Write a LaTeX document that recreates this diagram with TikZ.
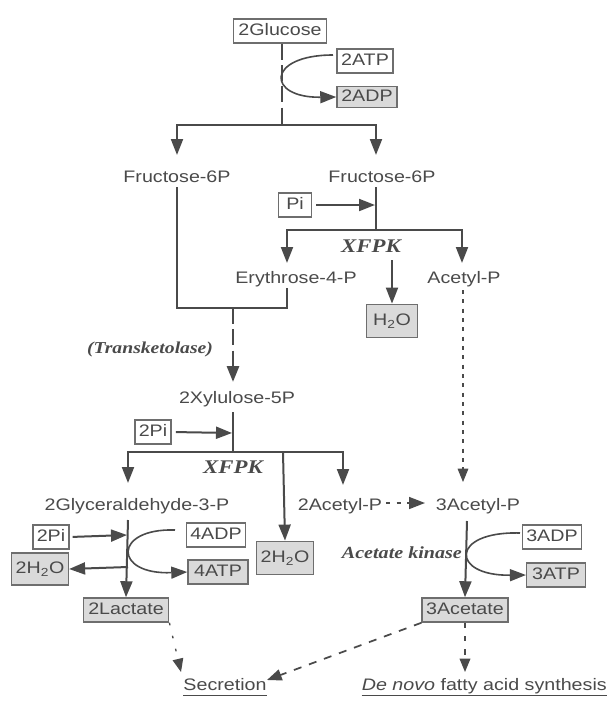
\documentclass[tikz,border=0pt]{standalone}
\usepackage{fontspec}
\setmainfont{Liberation Sans}[FakeStretch=1.18]
\newfontfamily\enzfont{Liberation Serif}[FakeStretch=1.18]
\usetikzlibrary{arrows.meta}
\definecolor{ink}{HTML}{4A4A4A}
\definecolor{boxgrey}{HTML}{DADADA}
\definecolor{boxline}{HTML}{6E6E6E}
\begin{document}
\begin{tikzpicture}[x=0.75pt,y=-0.75pt,
  every node/.style={text=ink,font=\fontsize{12.5}{14}\selectfont},
  box/.style={draw=boxline,line width=1.1pt,fill=white,inner xsep=3pt,inner ysep=0pt,
    minimum height=18pt,text height=9pt,text depth=2pt},
  gbox/.style={box,fill=boxgrey},
  lbl/.style={anchor=base,inner sep=0pt},
  enz/.style={anchor=base,inner sep=0pt,font=\enzfont\bfseries\itshape\fontsize{14.5}{16}\selectfont},
  ln/.style={draw=ink,line width=1.5pt},
  tip/.style={-{Triangle[length=12pt,width=9pt]}},
  arr/.style={ln,tip},
  thickdash/.style={draw=ink,line width=2.2pt,dash pattern=on 12pt off 4pt}
]
\useasboundingbox (0,0) rectangle (608,701);

% ---------- nodes ----------
\node[box,minimum width=70pt] (glu) at (280,31) {2Glucose};
\node[box,minimum width=42pt] (atp2) at (365,61) {2ATP};
\node[gbox,minimum width=45pt,minimum height=16pt] (adp2) at (367,97) {2ADP};
\node[lbl] (fru1) at (177,182) {Fructose-6P};
\node[lbl] (fru2) at (382,182) {Fructose-6P};
\node[box,minimum width=25pt] (pi) at (295,205) {Pi};
\node[enz] (xfpk1) at (371,252) {XFPK};
\node[lbl] (ery) at (296,283) {Erythrose-4-P};
\node[lbl] (acp) at (464,283) {Acetyl-P};
\node[gbox,minimum width=38pt,minimum height=25pt] (h2o) at (392,321) {H\textsubscript{2}O};
\node[enz,font=\enzfont\bfseries\itshape\fontsize{12.5}{14}\selectfont] (trans) at (150,353) {(Transketolase)};
\node[lbl] (xyl) at (237,403) {2Xylulose-5P};
\node[box,minimum width=25pt] (pi2) at (153,432) {2Pi};
\node[enz] (xfpk2) at (233,473) {XFPK};
\node[lbl] (gly) at (137,510) {2Glyceraldehyde-3-P};
\node[lbl] (acp2) at (340,510) {2Acetyl-P};
\node[lbl] (acp3) at (478,510) {3Acetyl-P};
\node[box,minimum width=26pt] (pi3) at (51,537) {2Pi};
\node[box,minimum width=43pt] (adp4) at (216,535) {4ADP};
\node[gbox,minimum width=45pt] (atp4) at (218,572) {4ATP};
\node[gbox,minimum width=41pt,minimum height=24pt] (h2oL) at (40,569) {2H\textsubscript{2}O};
\node[gbox,minimum width=41pt,minimum height=25pt] (h2oM) at (285,558) {2H\textsubscript{2}O};
\node[gbox,minimum width=64pt] (lac) at (126,610) {2Lactate};
\node[box,minimum width=44pt] (adp3) at (552,537) {3ADP};
\node[gbox,minimum width=44pt] (atp3) at (556,575) {3ATP};
\node[enz,anchor=base east,font=\enzfont\bfseries\itshape\fontsize{12.75}{14}\selectfont] (ak) at (462,558) {Acetate kinase};
\node[gbox,minimum width=64pt] (ace) at (465,610) {3Acetate};
\node[lbl] (sec) at (225,690) {Secretion};
\node[lbl,anchor=base east] (dn) at (607,690) {\textit{De novo} fatty acid synthesis};
\draw[ink,line width=0.8pt] ([yshift=-4pt]sec.base west) -- ([yshift=-4pt]sec.base east);
\draw[ink,line width=0.8pt] ([yshift=-4pt]dn.base west) -- ([yshift=-4pt]dn.base east);

% ---------- coordinates ----------
\coordinate (j1) at (282,125);
\coordinate (f1t) at (177,155);
\coordinate (f2t) at (376,155);
\coordinate (f1b) at (177,187);
\coordinate (f2b) at (376,187);
\coordinate (j2) at (376,230);
\coordinate (pij) at (375,205);
\coordinate (et) at (287,263);
\coordinate (at) at (462,263);
\coordinate (eb) at (287,288);
\coordinate (j3R) at (287,308);
\coordinate (j3) at (233,308);
\coordinate (h2oS) at (392,260);
\coordinate (xt) at (233,382);
\coordinate (xb) at (233,412);
\coordinate (j4) at (233,452);
\coordinate (pi2j) at (232,433);
\coordinate (gt) at (128,483);
\coordinate (mt) at (283,452);
\coordinate (a2t) at (343,485);
\coordinate (acpB) at (463,290);
\coordinate (a3t) at (463,482);
\coordinate (a3b) at (467,521);
\coordinate (gb) at (128,520);
\coordinate (pi3j) at (127,535);
\coordinate (h2oLj) at (128,567);
\coordinate (c2s) at (333,55);
\coordinate (c4s) at (175,530);
\coordinate (c3s) at (520,533);
\coordinate (a2e) at (386,503);
\coordinate (a3w) at (425,503);
\coordinate (secL) at (181,672);
\coordinate (secR) at (267,680);
\coordinate (dnt) at (465,672);

% ---------- connectors ----------
\draw[thickdash] (glu.south -| j1) -- (j1);
\draw[arr,line width=1.2pt] (c2s) .. controls (266,55) and (266,98) .. (adp2.west);
\draw[arr] (j1) -| (f1t);
\draw[arr] (j1) -| (f2t);

\draw[ln] (f2b) -- (j2);
\draw[arr,shorten <=3pt] (pi.east) -- (pij);
\draw[arr] (j2) -| (et);
\draw[arr] (j2) -| (at);
\draw[arr] (h2oS) -- (h2o.north);
\draw[ln] (f1b) |- (j3R) -- (eb);
\draw[thickdash,tip] (j3) -- (xt);

\draw[ln] (xb) -- (j4);
\draw[arr,shorten <=3pt] (pi2.east) -- (pi2j);
\draw[arr] (j4) -| (gt);
\draw[arr] (j4) -| (a2t);
\draw[arr] (mt) -- (h2oM.north);

\draw[arr] (gb) -- (lac.north);
\draw[arr,shorten <=2pt] (pi3.east) -- (pi3j);
\draw[arr] (h2oLj) -- (h2oL.east);
\draw[arr,line width=1.2pt] (c4s) .. controls (113,528) and (113,575) .. (atp4.west);

\draw[draw=ink,line width=0.8pt,dash pattern=on 3pt off 4pt,-{Triangle[length=10pt,width=8pt]}] (acpB) -- (a3t);
\draw[draw=ink,line width=1.2pt,dash pattern=on 3pt off 5pt,-{Triangle[length=12pt,width=9pt]}] (a2e) -- (a3w);
\draw[arr] (a3b) -- (ace.north);
\draw[arr,line width=1.2pt] (c3s) .. controls (450,531) and (450,576) .. (atp3.west);

\draw[draw=ink,line width=1pt,dash pattern=on 2pt off 8pt,-{Triangle[length=10pt,width=8pt]}] (lac.south east) -- (secL);
\draw[draw=ink,line width=1.3pt,dash pattern=on 6pt off 6pt,-{Triangle[length=11pt,width=8.5pt]}] (ace.south west) -- (secR);
\draw[draw=ink,line width=1pt,dash pattern=on 4pt off 6pt,-{Triangle[length=10pt,width=8pt]}] (ace.south) -- (dnt);
\end{tikzpicture}
\end{document}
